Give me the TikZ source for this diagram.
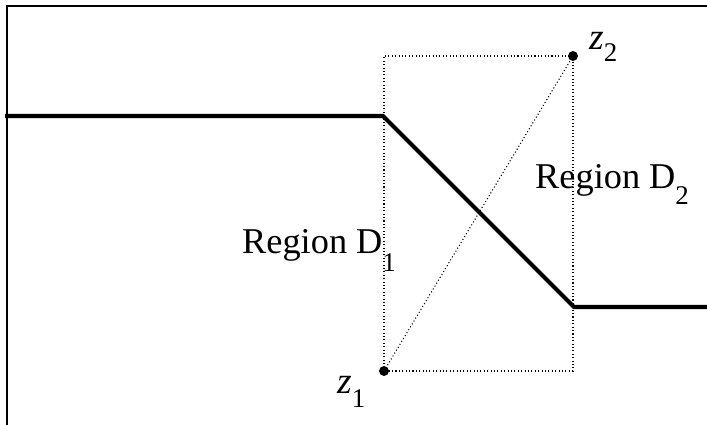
\documentclass[tikz,border=0pt]{standalone}
\usepackage{fontspec}
\setmainfont{Liberation Serif}
\usetikzlibrary{positioning}

\newcommand{\dropsub}[3]{\raisebox{-#1}{\fontsize{#2}{#2}\selectfont #3}}

\begin{document}
\begin{tikzpicture}[x=0.03cm, y=-0.03cm,
        thickline/.style={line width=3.6pt, line join=miter},
        frameline/.style={line width=1.4pt},
        dotline/.style={line width=0.9pt, dotted},
        dotpt/.style={circle, fill, inner sep=0pt, minimum size=8.5pt},
        region/.style={anchor=base west, inner sep=0pt, font=\fontsize{31}{34}\selectfont},
        zlabel/.style={anchor=base west, inner sep=0pt, font=\fontsize{32}{36}\selectfont}]
        \useasboundingbox (0,0) rectangle (707,425);

        % frame
        \draw[frameline] (7,425) -- (7,6) -- (707,6);

        % end points
        \node[dotpt] (z1) at (384,371) {};
        \node[dotpt] (z2) at (573,56) {};

        % profile
        \coordinate (a) at (5,116);
        \coordinate (b) at (383,116);
        \coordinate (c) at (574,307);
        \coordinate (d) at (707,307);
        \draw[thickline] (a) -- (b) -- (c) -- (d);

        % box and chord
        \draw[dotline] (z1.center) rectangle (z2.center);
        \draw[dotline] (z1.center) -- (z2.center);

        % labels
        \node[zlabel] (z1lbl) at (337,393) {\textit{z}\dropsub{12pt}{23}{1}};
        \node[zlabel] (z2lbl) at (589,50) {\textit{z}\dropsub{10pt}{23}{2}};
        \node[region] (d1lbl) at (242,253) {Region D\dropsub{16pt}{23}{1}};
        \node[region] (d2lbl) at (535,188) {Region D\dropsub{14pt}{23}{2}};

    \end{tikzpicture}
\end{document}
